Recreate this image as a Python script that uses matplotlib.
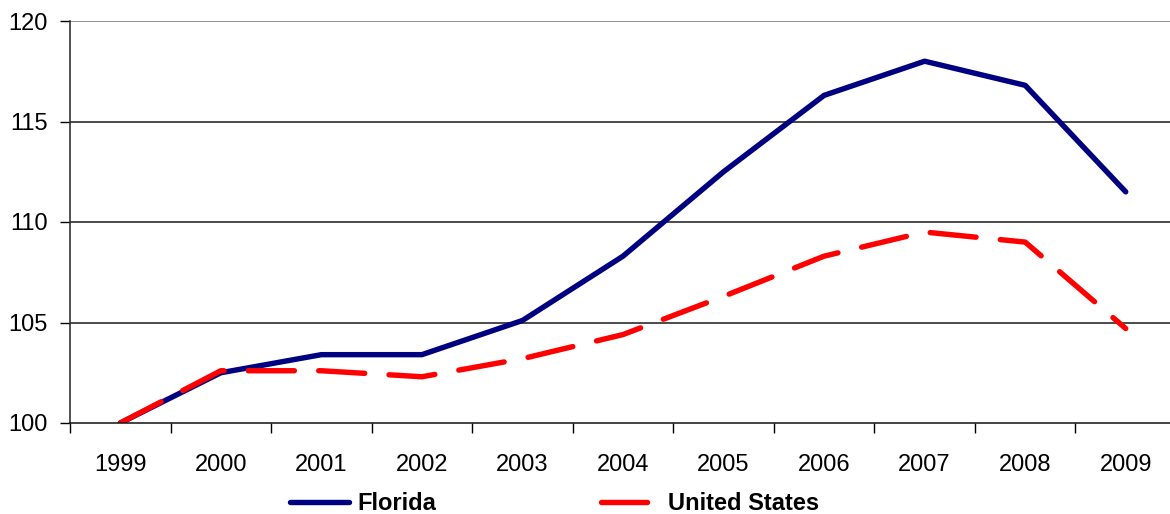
import numpy as np
import matplotlib
matplotlib.use('Agg')
import matplotlib.pyplot as plt

years = ['1999', '2000', '2001', '2002', '2003', '2004', '2005', '2006', '2007', '2008', '2009']
florida = [100.0, 102.5, 103.4, 103.4, 105.1, 108.3, 112.5, 116.3, 118.0, 116.8, 111.5]
usa = [100.0, 102.6, 102.6, 102.3, 103.2, 104.4, 106.3, 108.3, 109.5, 109.0, 104.7]

plt.rcParams['font.family'] = ['Liberation Sans', 'DejaVu Sans']

fig = plt.figure(figsize=(11.7, 5.14), dpi=100)
ax = fig.add_axes([70/1170, 91/514, 1106/1170, 402/514])

x = np.arange(len(years))
ax.plot(x, florida, color='#000080', lw=3.9, solid_capstyle='round',
        solid_joinstyle='round', label='Florida')
ax.plot(x, usa, color='#ff0000', lw=3.9, dashes=(8.5, 4.5), dash_capstyle='round',
        label='United States')

ax.set_xlim(-0.5, len(years) - 0.5)
ax.set_ylim(100, 120)
ax.set_yticks([100, 105, 110, 115, 120])
for yv in [105, 110, 115]:
    ax.axhline(yv, color='#1a1a1a', lw=1.1, zorder=0)
ax.axhline(120, color='#888888', lw=1.3, zorder=0)

ax.set_xticks(x)
ax.set_xticklabels(years)
ax.set_xticks(np.arange(len(years) + 1) - 0.5, minor=True)
ax.tick_params(axis='x', which='major', length=0, pad=22, labelsize=17)
ax.tick_params(axis='x', which='minor', length=7, width=1, direction='out')
ax.tick_params(axis='y', length=7, width=1, direction='out', labelsize=17, pad=9)

for s in ['top', 'right']:
    ax.spines[s].set_visible(False)
ax.spines['left'].set_color('#333333')
ax.spines['left'].set_linewidth(1.2)
ax.spines['bottom'].set_color('#111111')
ax.spines['bottom'].set_linewidth(1.1)

fig.legend(loc='center', bbox_to_anchor=(0.474, 0.02), ncol=2, frameon=False,
           handlelength=2.5, columnspacing=7.0, handletextpad=0.35,
           prop={'weight': 'bold', 'size': 17})

fig.savefig('out.png', dpi=100)
